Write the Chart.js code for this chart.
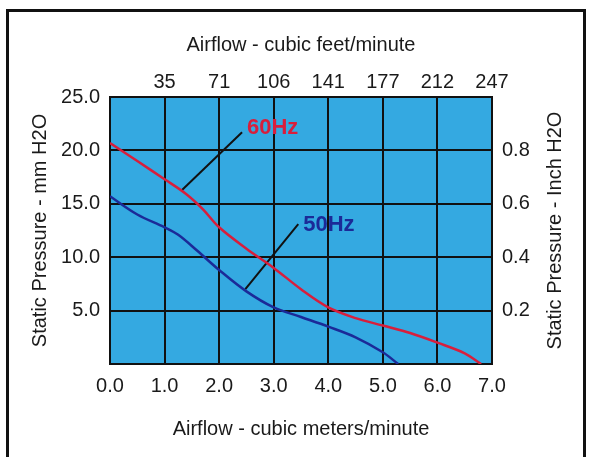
<!DOCTYPE html>
<html>
<head>
<meta charset="utf-8">
<script src="https://cdn.jsdelivr.net/npm/chart.js@4.4.1/dist/chart.umd.min.js"></script>
<style>
  html, body { margin: 0; padding: 0; background: #fff; }
  canvas { display: block; }
</style>
</head>
<body>
<canvas id="grafico" width="591" height="457"></canvas>
<script>
// Datos
const flujo60 = [0, 0.5, 1.0, 1.4, 1.7, 2.0, 2.5, 3.0, 3.5, 4.0, 4.5, 5.0, 5.5, 6.0, 6.5, 6.8]
const presion60 = [20.7, 19.0, 17.3, 15.9, 14.5, 12.8, 10.8, 9.0, 7.0, 5.3, 4.3, 3.6, 2.9, 2.0, 1.0, 0]
const flujo50 = [0, 0.5, 1.0, 1.25, 1.6, 2.0, 2.5, 3.0, 3.5, 4.0, 4.5, 5.0, 5.28]
const presion50 = [15.7, 14.0, 12.8, 12.1, 10.6, 8.8, 6.8, 5.3, 4.4, 3.5, 2.5, 1.1, 0]

// Etiquetas de los ejes secundarios
const etiquetasCfm = ['', '35', '71', '106', '141', '177', '212', '247']
const etiquetasPulgadas = ['', '0.2', '0.4', '0.6', '0.8', '']

// Flechas de las etiquetas (en unidades de datos)
const flecha60 = [{ x: 1.32, y: 16.3 }, { x: 2.42, y: 21.7 }]
const flecha50 = [{ x: 2.48, y: 7.0 }, { x: 3.45, y: 13.1 }]

const fuente = "'Liberation Sans', Arial, sans-serif"
const azulFondo = '#34a9e1'
const rojo = '#d81e3c'
const azul = '#1b2a98'

const puntos = (xs, ys) => xs.map((x, i) => ({ x, y: ys[i] }))

// Fondo del área, texto de curvas, título derecho y marco
const pluginDecoracion = {
    id: 'decoracion',
    beforeDraw(chart) {
        const { ctx, chartArea: a } = chart
        ctx.save()
        ctx.fillStyle = azulFondo
        ctx.fillRect(a.left, a.top, a.right - a.left, a.bottom - a.top)
        ctx.restore()
    },
    afterDraw(chart) {
        const { ctx, scales } = chart
        ctx.save()
        ctx.font = 'bold 22px ' + fuente
        ctx.textBaseline = 'middle'
        ctx.fillStyle = rojo
        ctx.fillText('60Hz', scales.x.getPixelForValue(2.51), scales.y.getPixelForValue(22.15))
        ctx.fillStyle = azul
        ctx.fillText('50Hz', scales.x.getPixelForValue(3.54), scales.y.getPixelForValue(13.0))

        // título del eje derecho, leído de abajo hacia arriba
        ctx.font = '20px ' + fuente
        ctx.fillStyle = '#1a1a1a'
        ctx.textAlign = 'center'
        ctx.translate(555, (chart.chartArea.top + chart.chartArea.bottom) / 2)
        ctx.rotate(-Math.PI / 2)
        ctx.fillText('Static Pressure - Inch H2O', 0, 0)
        ctx.restore()

        ctx.save()
        ctx.strokeStyle = '#111'
        ctx.lineWidth = 3
        ctx.strokeRect(7.5, 10.5, 577, 470)
        ctx.restore()
    }
}

const ctx = document.getElementById('grafico').getContext('2d')
new Chart(ctx, {
    type: 'line',
    data: {
        datasets: [
            {
                label: '60Hz',
                data: puntos(flujo60, presion60),
                borderColor: rojo,
                borderWidth: 2.5,
                pointRadius: 0,
                tension: 0.35
            },
            {
                label: '50Hz',
                data: puntos(flujo50, presion50),
                borderColor: azul,
                borderWidth: 2.5,
                pointRadius: 0,
                tension: 0.35
            },
            {
                label: 'flecha60',
                data: flecha60,
                borderColor: '#111',
                borderWidth: 2,
                pointRadius: 0
            },
            {
                label: 'flecha50',
                data: flecha50,
                borderColor: '#111',
                borderWidth: 2,
                pointRadius: 0
            }
        ]
    },
    options: {
        responsive: false,
        animation: false,
        devicePixelRatio: 1,
        layout: { padding: 0 },
        plugins: {
            legend: { display: false },
            tooltip: { enabled: false }
        },
        scales: {
            x: {
                type: 'linear',
                position: 'bottom',
                min: 0,
                max: 7,
                afterFit: s => { s.height = 93 },
                ticks: {
                    stepSize: 1,
                    padding: 10,
                    color: '#1a1a1a',
                    font: { family: fuente, size: 20 },
                    callback: v => v.toFixed(1)
                },
                grid: { color: '#111', lineWidth: 2, drawTicks: false },
                border: { color: '#111', width: 2 },
                title: {
                    display: true,
                    text: 'Airflow - cubic meters/minute',
                    color: '#1a1a1a',
                    font: { family: fuente, size: 20 },
                    padding: { bottom: 16 }
                }
            },
            x2: {
                type: 'linear',
                position: 'top',
                min: 0,
                max: 7,
                afterFit: s => { s.height = 97 },
                ticks: {
                    stepSize: 1,
                    padding: 3,
                    color: '#1a1a1a',
                    font: { family: fuente, size: 20 },
                    callback: (v, i) => etiquetasCfm[i]
                },
                grid: { display: false, drawTicks: false },
                border: { color: '#111', width: 2 },
                title: {
                    display: true,
                    text: 'Airflow - cubic feet/minute',
                    color: '#1a1a1a',
                    font: { family: fuente, size: 20 },
                    padding: { top: 33 }
                }
            },
            y: {
                position: 'left',
                min: 0,
                max: 25,
                afterFit: s => { s.width = 110 },
                ticks: {
                    stepSize: 5,
                    padding: 10,
                    color: '#1a1a1a',
                    font: { family: fuente, size: 20 },
                    callback: v => v === 0 ? '' : v.toFixed(1)
                },
                grid: { color: '#111', lineWidth: 2, drawTicks: false },
                border: { color: '#111', width: 2 },
                title: {
                    display: true,
                    text: 'Static Pressure - mm H2O',
                    color: '#1a1a1a',
                    font: { family: fuente, size: 20 },
                    padding: { top: 28 }
                }
            },
            y2: {
                position: 'right',
                min: 0,
                max: 25,
                afterFit: s => { s.width = 99 },
                ticks: {
                    stepSize: 5,
                    padding: 10,
                    color: '#1a1a1a',
                    font: { family: fuente, size: 20 },
                    callback: (v, i) => etiquetasPulgadas[i]
                },
                grid: { display: false, drawTicks: false },
                border: { color: '#111', width: 2 }
            }
        }
    },
    plugins: [pluginDecoracion]
})
</script>
</body>
</html>
